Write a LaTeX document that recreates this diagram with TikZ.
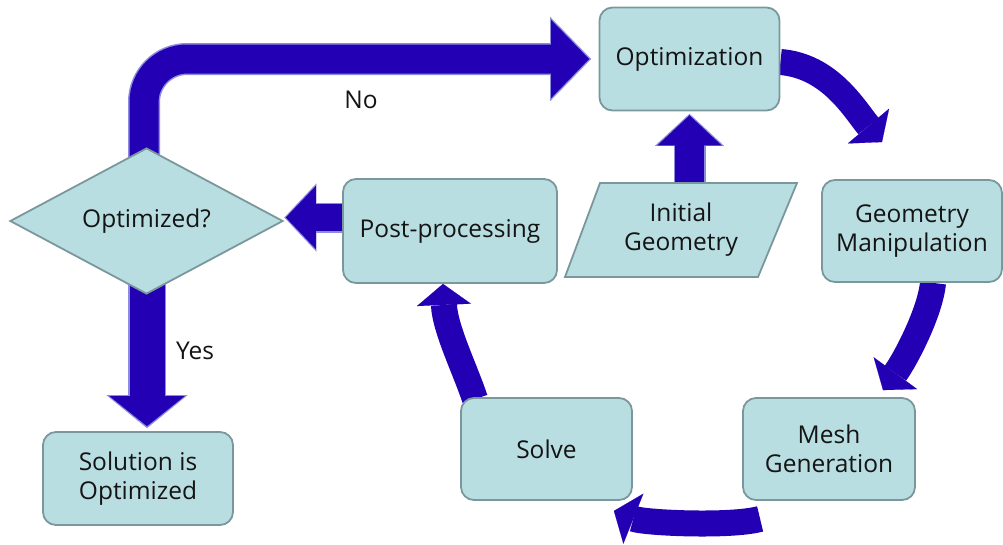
\documentclass[tikz,border=0pt]{standalone}
\usepackage{fontspec}
\setmainfont{Open Sans}
\usetikzlibrary{arrows.meta,shapes.geometric,calc,backgrounds}
\definecolor{boxfill}{RGB}{185,222,226}
\definecolor{boxline}{RGB}{122,152,156}
\definecolor{ablue}{RGB}{36,0,180}
\definecolor{aedge}{RGB}{140,140,222}
\definecolor{txt}{RGB}{20,20,20}
\begin{document}
\begin{tikzpicture}[x=1pt,y=-1pt,
  box/.style={draw=boxline, line width=1.8pt, fill=boxfill, rounded corners=13pt, align=center, text=txt, font=\fontsize{24.5}{29}\selectfont, inner sep=0pt},
  lbl/.style={text=txt, font=\fontsize{24.5}{29}\selectfont, align=center},
  flow/.style={draw=ablue, line width=26pt, -{Triangle[length=21pt,width=54pt,line width=0.1pt]}},
  ]
\useasboundingbox (0,0) rectangle (1003,544);
% nodes
\node[box, minimum width=180pt, minimum height=103pt] (opt) at (689.5,59) {Optimization};
\node[box, minimum width=180pt, minimum height=102pt] (gm) at (912,231) {Geometry\\Manipulation};
\node[box, minimum width=214pt, minimum height=104pt] (post) at (450,231) {Post-processing};
\node[box, minimum width=172pt, minimum height=102pt] (mesh) at (829,449) {Mesh\\Generation};
\node[box, minimum width=171pt, minimum height=102pt] (solve) at (546.5,449) {Solve};
\node[box, minimum width=190pt, minimum height=93pt] (sol) at (138,478.5) {Solution is\\Optimized};
\node[diamond, aspect=1.87, draw=boxline, line width=1.8pt, fill=boxfill, minimum width=273pt, minimum height=146pt, inner sep=0pt, text=txt, font=\fontsize{24.5}{29}\selectfont] (dia) at (146.5,221) {Optimized?};
\draw[draw=boxline, line width=1.8pt, fill=boxfill] (565,277) -- (600,183) -- (797,183) -- (758,277) -- cycle;
\node[lbl] (init) at (681,230) {Initial\\Geometry};
\node[lbl] (no) at (361,100) {No};
\node[lbl] (yes) at (195,351) {Yes};
% connectors
\begin{scope}[on background layer]
  % No loop
  \draw[draw=aedge, line width=32pt, rounded corners=43pt, -{Triangle[length=41pt,width=84pt,line width=0.1pt]}]
    ($(dia.center)+(-2.5,0)$) |- ($(opt.west)+(-7.5,0)$);
  \draw[draw=ablue, line width=29pt, rounded corners=43pt, -{Triangle[length=38pt,width=78pt,line width=0.1pt]}]
    ($(dia.center)+(-2.5,0)$) |- ($(opt.west)+(-9.5,0)$);
  % Yes
  \draw[draw=aedge, line width=38pt, -{Triangle[length=33pt,width=81pt,line width=0.1pt]}]
    ($(dia.center)+(0.5,0)$) -- ($(sol.north)+(9,-3)$);
  \draw[draw=ablue, line width=35pt, -{Triangle[length=30pt,width=75pt,line width=0.1pt]}]
    ($(dia.center)+(0.5,0)$) -- ($(sol.north)+(9,-5)$);
  % Post-processing -> Optimized?
  \draw[draw=aedge, line width=30pt, -{Triangle[length=32pt,width=68pt,line width=0.1pt]}]
    ($(post.west)+(2,-13.5)$) -- ($(dia.east)+(0.5,-3.5)$);
  \draw[draw=ablue, line width=27pt, -{Triangle[length=30pt,width=63pt,line width=0.1pt]}]
    ($(post.west)+(2,-13.5)$) -- ($(dia.east)+(2,-3.5)$);
  % Initial Geometry -> Optimization
  \draw[draw=aedge, line width=32pt, -{Triangle[length=32pt,width=69pt,line width=0.1pt]}]
    ($(init.center)+(8.5,-45)$) -- ($(opt.south)+(0,2.5)$);
  \draw[draw=ablue, line width=29pt, -{Triangle[length=30pt,width=64pt,line width=0.1pt]}]
    ($(init.center)+(8.5,-45)$) -- ($(opt.south)+(0,4)$);
  % cycle
  \draw[flow] ($(opt.east)+(0,3)$) .. controls +(50,4) and +(-27,-32) .. ($(gm.north)+(-30,-37)$);
  \draw[flow] ($(gm.south)+(21,0)$) .. controls +(-3,30) and +(22,-30) .. ($(mesh.north)+(54,-7)$);
  \draw[flow] ($(mesh.south west)+(18,18)$) .. controls +(-30,8) and +(30,12) .. ($(solve.south east)+(-19,10)$);
  \draw[flow] ($(solve.north)+(-71.5,2)$) .. controls +(-10,-30) and +(2,45) .. ($(post.south)+(-7,0)$);
\end{scope}
\end{tikzpicture}
\end{document}
